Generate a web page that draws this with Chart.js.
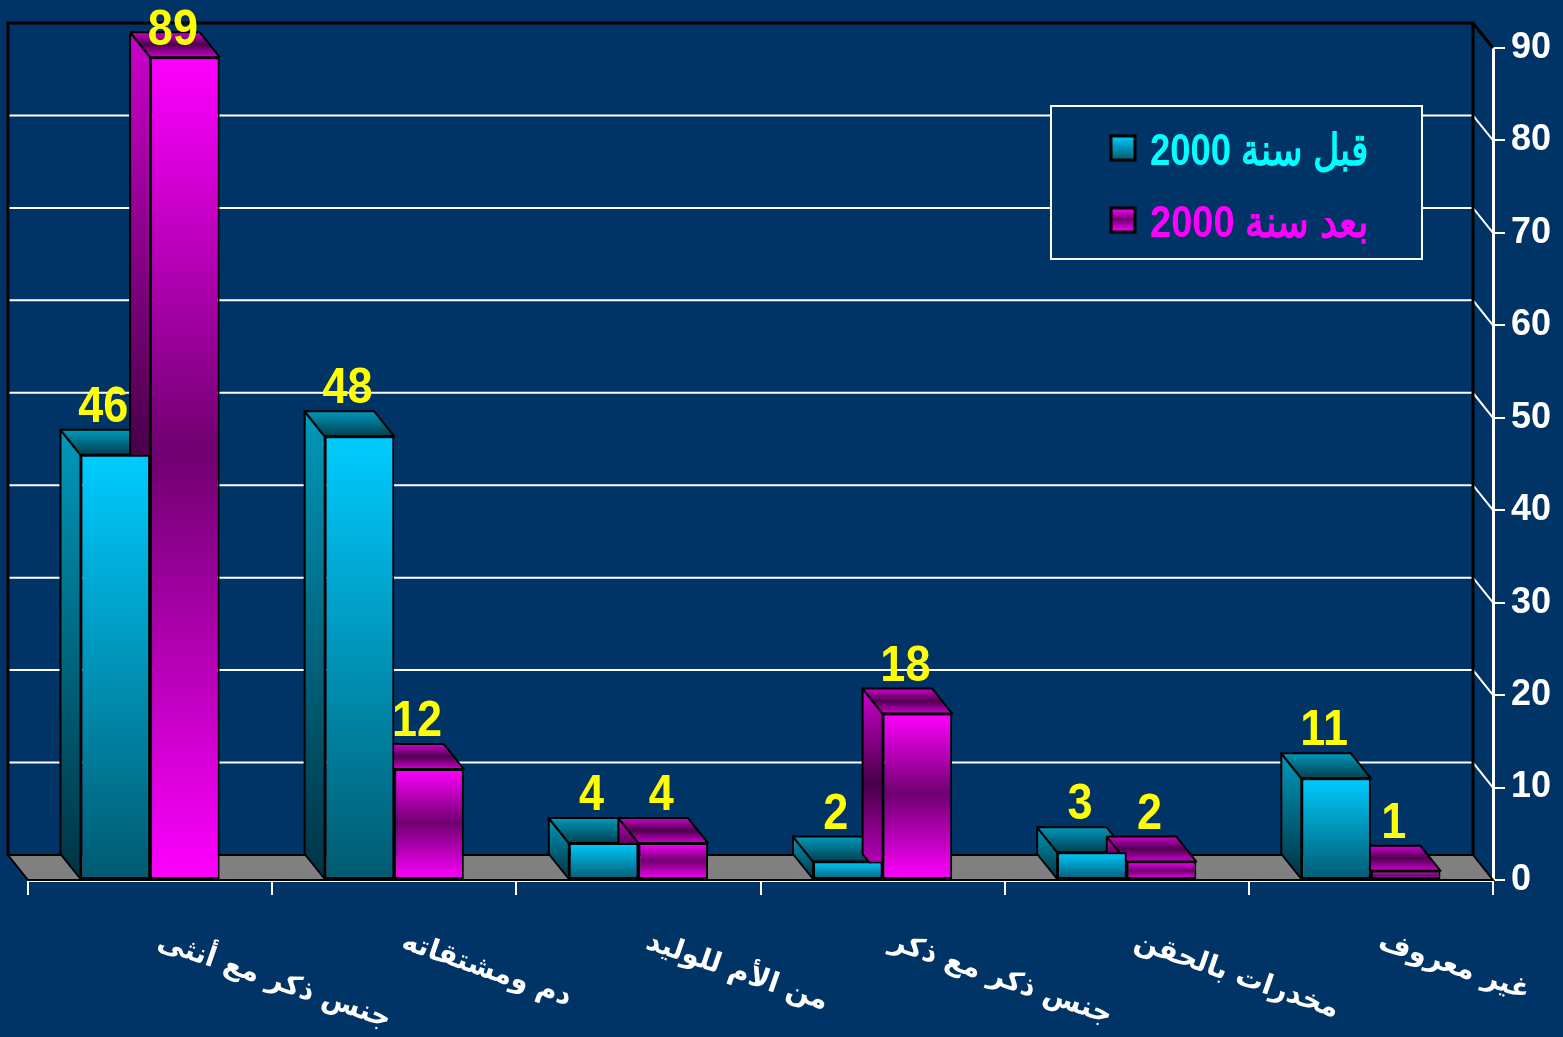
<!DOCTYPE html>
<html>
<head>
<meta charset="utf-8">
<script src="https://cdn.jsdelivr.net/npm/chart.js@4/dist/chart.umd.min.js"></script>
<style>
  html, body { margin: 0; padding: 0; background: #003366; }
  canvas { display: block; }
</style>
</head>
<body>
<canvas id="hiv-chart" width="1563" height="1037"></canvas>
<script>
// categories (left to right) and the two series
let categories = ["جنس ذكر مع أنثى", "دم ومشتقاته", "من الأم للوليد", "جنس ذكر مع ذكر", "مخدرات بالحقن", "غير معروف"];
let seriesNames = ["قبل سنة 2000", "بعد سنة 2000"];
let before2000 = [46, 48, 4, 2, 3, 11];
let after2000 = [89, 12, 4, 18, 2, 1];
let yTicks = { min: 0, max: 90, step: 10 };

const BG = "#003366";
const DX = -20, DY = -25; // 3d depth offset

// colour ramps per series: front, side, top
const ramps = [
  {
    front: [[0, "#00ccff"], [1, "#005a70"]],
    side: [[0, "#0099bb"], [1, "#003344"]],
    top: [[0, "#0099bb"], [1, "#004050"]],
    text: "#00ffff",
  },
  {
    front: [[0, "#ff00ff"], [0.48, "#700070"], [1, "#ff00ff"]],
    side: [[0, "#cc00cc"], [0.5, "#480048"], [1, "#cc00cc"]],
    top: [[0, "#cc00cc"], [0.5, "#500050"], [1, "#cc00cc"]],
    text: "#ff00ff",
  },
];

function grad(ctx, y0, y1, stops) {
  if (!isFinite(y0) || !isFinite(y1)) return stops[0][1];
  if (Math.abs(y1 - y0) < 1) y1 = y0 + 1;
  let g = ctx.createLinearGradient(0, y0, 0, y1);
  stops.forEach(([o, c]) => g.addColorStop(o, c));
  return g;
}

function frontFill(c) {
  let chart = c.chart;
  let y = chart.scales.y;
  if (!y || c.raw === undefined) return ramps[c.datasetIndex].front[0][1];
  let top = y.getPixelForValue(c.raw);
  let base = y.getPixelForValue(0);
  return grad(chart.ctx, top, base, ramps[c.datasetIndex].front);
}

function poly(ctx, pts) {
  ctx.beginPath();
  ctx.moveTo(pts[0][0], pts[0][1]);
  for (let i = 1; i < pts.length; i++) ctx.lineTo(pts[i][0], pts[i][1]);
  ctx.closePath();
}

const box3d = {
  id: "box3d",
  beforeDatasetsDraw(chart) {
    let { ctx, chartArea: a, scales: { y } } = chart;
    let base = y.getPixelForValue(0);
    let top = y.getPixelForValue(yTicks.max);
    ctx.save();
    ctx.lineCap = "butt";
    // back wall gridlines + diagonals to the front axis
    ctx.strokeStyle = "#ffffff";
    ctx.lineWidth = 2;
    for (let v = yTicks.min + yTicks.step; v < yTicks.max; v += yTicks.step) {
      let py = y.getPixelForValue(v);
      ctx.beginPath();
      ctx.moveTo(a.left + DX, py + DY);
      ctx.lineTo(a.right + DX, py + DY);
      ctx.lineTo(a.right, py);
      ctx.stroke();
    }
    // floor
    poly(ctx, [[a.left + DX, base + DY], [a.right + DX, base + DY], [a.right, base], [a.left, base]]);
    ctx.fillStyle = "#808080";
    ctx.fill();
    ctx.strokeStyle = "#000000";
    ctx.lineWidth = 2;
    ctx.stroke();
    // wall frame
    ctx.lineWidth = 3;
    ctx.beginPath();
    ctx.moveTo(a.left + DX, base + DY);
    ctx.lineTo(a.left + DX, top + DY);
    ctx.lineTo(a.right + DX, top + DY);
    ctx.lineTo(a.right + DX, base + DY);
    ctx.moveTo(a.right + DX, top + DY);
    ctx.lineTo(a.right, top);
    ctx.stroke();

    // side and top faces of every bar
    ctx.lineWidth = 2;
    ctx.lineJoin = "round";
    chart.data.datasets.forEach((ds, di) => {
      let meta = chart.getDatasetMeta(di);
      meta.data.forEach((el) => {
        let p = el.getProps(["x", "y", "base", "width"], true);
        let l = p.x - p.width / 2, r = p.x + p.width / 2;
        // left side
        poly(ctx, [[l, p.y], [l + DX, p.y + DY], [l + DX, p.base + DY], [l, p.base]]);
        ctx.fillStyle = grad(ctx, p.y + DY, p.base, ramps[di].side);
        ctx.fill();
        ctx.stroke();
        // top
        poly(ctx, [[l, p.y], [r, p.y], [r + DX, p.y + DY], [l + DX, p.y + DY]]);
        ctx.fillStyle = grad(ctx, p.y + DY, p.y, ramps[di].top);
        ctx.fill();
        ctx.stroke();
      });
    });
    ctx.restore();
  },
  afterDatasetsDraw(chart) {
    let { ctx } = chart;
    ctx.save();
    ctx.fillStyle = "#ffff00";
    ctx.font = "bold 50px 'Liberation Sans', Arial, sans-serif";
    ctx.textAlign = "center";
    ctx.textBaseline = "alphabetic";
    chart.data.datasets.forEach((ds, di) => {
      let meta = chart.getDatasetMeta(di);
      meta.data.forEach((el, i) => {
        let p = el.getProps(["x", "y"], true);
        let tx = p.x - 12;
        let ty = Math.max(p.y + DY - 8, 45);
        ctx.save();
        ctx.translate(tx, ty);
        ctx.scale(0.9, 1);
        ctx.fillText(String(ds.data[i]), 0, 0);
        ctx.restore();
      });
    });
    ctx.restore();
  },
  afterDraw(chart) {
    let { ctx, scales: { x } } = chart;
    ctx.save();
    // category labels, rotated clockwise
    ctx.fillStyle = "#ffffff";
    ctx.font = "bold 28px 'DejaVu Sans', sans-serif";
    ctx.direction = "rtl";
    ctx.textAlign = "left";
    ctx.textBaseline = "alphabetic";
    categories.forEach((lab, i) => {
      let cx = x.getPixelForValue(i);
      ctx.save();
      ctx.translate(cx + 6, 948);
      ctx.rotate((19 * Math.PI) / 180);
      ctx.fillText(lab, 0, 0);
      ctx.restore();
    });

    // legend inside the plot
    let lx = 1051, ly = 106, lw = 371, lh = 153;
    ctx.fillStyle = BG;
    ctx.fillRect(lx, ly, lw, lh);
    ctx.strokeStyle = "#ffffff";
    ctx.lineWidth = 2;
    ctx.strokeRect(lx, ly, lw, lh);
    ctx.font = "bold 44px 'Liberation Sans', Arial, sans-serif";
    ctx.textAlign = "right";
    chart.data.datasets.forEach((ds, di) => {
      let cy = 148 + di * 72;
      ctx.fillStyle = grad(ctx, cy - 12, cy + 12, ramps[di].front);
      ctx.fillRect(1111, cy - 12, 24, 24);
      ctx.strokeStyle = "#000000";
      ctx.lineWidth = 3;
      ctx.strokeRect(1111, cy - 12, 24, 24);
      ctx.fillStyle = ramps[di].text;
      ctx.fillText(ds.label, 1368, cy + 17, 218);
    });
    ctx.restore();
  },
};

new Chart(document.getElementById("hiv-chart").getContext("2d"), {
  type: "bar",
  data: {
    labels: categories,
    datasets: [
      {
        label: seriesNames[0],
        data: before2000,
        backgroundColor: frontFill,
        borderColor: "#000000",
        borderWidth: 2,
        borderSkipped: false,
        barPercentage: 1,
        categoryPercentage: 0.57,
      },
      {
        label: seriesNames[1],
        data: after2000,
        backgroundColor: frontFill,
        borderColor: "#000000",
        borderWidth: 2,
        borderSkipped: false,
        barPercentage: 1,
        categoryPercentage: 0.57,
      },
    ],
  },
  options: {
    responsive: false,
    animation: false,
    devicePixelRatio: 1,
    layout: { padding: { left: 28, top: 48, right: 0, bottom: 0 } },
    plugins: {
      legend: { display: false },
      tooltip: { enabled: false },
    },
    scales: {
      x: {
        z: 1,
        grid: {
          drawOnChartArea: false,
          drawTicks: true,
          tickLength: 15,
          color: "#ffffff",
          lineWidth: 2,
        },
        border: { display: true, color: "#ffffff", width: 3 },
        ticks: { display: false },
        afterFit: (s) => { s.height = 157; },
      },
      y: {
        position: "right",
        min: yTicks.min,
        max: yTicks.max,
        z: 1,
        ticks: {
          stepSize: yTicks.step,
          color: "#ffffff",
          font: { family: "'Liberation Sans', Arial, sans-serif", size: 36, weight: "bold" },
          padding: 6,
        },
        grid: {
          drawOnChartArea: false,
          drawTicks: true,
          tickLength: 12,
          color: "#ffffff",
          lineWidth: 2,
        },
        border: { display: true, color: "#ffffff", width: 3 },
        afterFit: (s) => { s.width = 70; },
      },
    },
  },
  plugins: [box3d],
});
</script>
</body>
</html>
